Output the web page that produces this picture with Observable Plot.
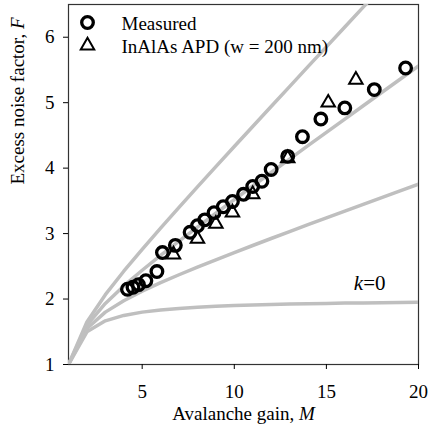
<!DOCTYPE html>
<html>
<head>
<meta charset="utf-8">
<script src="https://cdn.jsdelivr.net/npm/d3@7"></script>
<script src="https://cdn.jsdelivr.net/npm/@observablehq/plot@0.6"></script>
<style>
  html, body { margin: 0; padding: 0; background: #fff; }
</style>
</head>
<body>
<div id="chart"></div>
<script>
// Avalanche gain grid for the theoretical curves
const gain = [1,2,3,4,5,6,7,8,9,10,11,12,13,14,15,16,17,18,19,20];
// Excess noise factor (k = 0, 0.1, 0.2, 0.3)
const curveK0  = [1.000,1.500,1.667,1.750,1.800,1.833,1.857,1.875,1.889,1.900,1.909,1.917,1.923,1.929,1.933,1.938,1.941,1.944,1.947,1.950];
const curveK01 = [1.000,1.550,1.800,1.975,2.120,2.250,2.371,2.488,2.600,2.710,2.818,2.925,3.031,3.136,3.240,3.344,3.447,3.550,3.653,3.755];
const curveK02 = [1.000,1.600,1.933,2.200,2.440,2.667,2.886,3.100,3.311,3.520,3.727,3.933,4.138,4.343,4.547,4.750,4.953,5.156,5.358,5.560];
const curveK03 = [1.000,1.650,2.067,2.425,2.760,3.083,3.400,3.713,4.022,4.330,4.636,4.942,5.246,5.550,5.853,6.156,6.459,6.761];

// Measured points
const measuredM = [4.2,4.5,4.8,5.2,5.8,6.1,6.8,7.6,8.0,8.4,8.9,9.4,9.9,10.5,11.0,11.5,12.0,12.9,13.7,14.7,16.0,17.6,19.3];
const measuredF = [2.15,2.18,2.22,2.28,2.42,2.71,2.82,3.02,3.12,3.21,3.32,3.41,3.49,3.60,3.72,3.80,3.98,4.18,4.48,4.75,4.92,5.20,5.53];

// InAlAs APD (w = 200 nm)
const apdM = [6.7,8.0,9.0,9.9,11.0,12.9,15.1,16.6];
const apdF = [2.68,2.92,3.15,3.32,3.60,4.15,5.00,5.35];

const seriesNames = ["Measured", "InAlAs APD (w = 200 nm)"];
const xTicks = [5,10,15,20];
const yTicks = [1,2,3,4,5,6];
const curveLabel = "k=0";
const xLabel = "Avalanche gain, M";
const yLabel = "Excess noise factor, F";

const font = "'Liberation Serif', 'Times New Roman', serif";
const curveStyle = {stroke: "#bfbfbf", strokeWidth: 3.5, clip: true};

const chart = Plot.plot({
  width: 428,
  height: 434,
  marginLeft: 68,
  marginRight: 10,
  marginTop: 4,
  marginBottom: 70,
  style: {fontFamily: font, fontSize: "19px", color: "#000", background: "#fff"},
  x: {domain: [1, 20]},
  y: {domain: [1, 6.5]},
  marks: [
    Plot.frame({stroke: "#333", strokeWidth: 1.2}),
    Plot.axisX(xTicks, {tickSize: 5, tickPadding: 15, tickFormat: d => String(d), fontSize: 19, label: null, stroke: "#000", fill: "#000"}),
    Plot.axisY(yTicks, {tickSize: 5, tickPadding: 9, tickFormat: d => String(d), fontSize: 19, label: null, stroke: "#000", fill: "#000"}),
    Plot.line(curveK0,  {x: gain, y: curveK0, ...curveStyle}),
    Plot.line(curveK01, {x: gain, y: curveK01, ...curveStyle}),
    Plot.line(curveK02, {x: gain, y: curveK02, ...curveStyle}),
    Plot.line(curveK03, {x: gain.slice(0, curveK03.length), y: curveK03, ...curveStyle}),
    Plot.dot(measuredM, {x: measuredM, y: measuredF, r: 5.8, stroke: "#000", strokeWidth: 3.3, fill: "none"}),
    Plot.dot(apdM, {x: apdM, y: apdF, symbol: "triangle", r: 5, stroke: "#000", strokeWidth: 2, fill: "none"}),
    // legend
    Plot.dot([seriesNames[0]], {frameAnchor: "top-left", dx: 19, dy: 18, r: 5.8, stroke: "#000", strokeWidth: 3.3, fill: "none"}),
    Plot.dot([seriesNames[1]], {frameAnchor: "top-left", dx: 19, dy: 41, symbol: "triangle", r: 5, stroke: "#000", strokeWidth: 2, fill: "none"}),
    Plot.text([seriesNames[0]], {frameAnchor: "top-left", dx: 53, dy: 19, text: d => d, textAnchor: "start", lineAnchor: "middle", fontSize: 19, fill: "#000"}),
    Plot.text([seriesNames[1]], {frameAnchor: "top-left", dx: 53, dy: 42, text: d => d, textAnchor: "start", lineAnchor: "middle", fontSize: 19, fill: "#000"}),
    // curve label
    Plot.text([curveLabel], {x: 17.35, y: 2.24, text: d => d, fontSize: 21, fill: "#000", lineAnchor: "middle"}),
    // axis labels
    Plot.text([xLabel], {frameAnchor: "bottom", dy: 49, text: d => d, fontSize: 19, fill: "#000", lineAnchor: "middle"}),
    Plot.text([yLabel], {frameAnchor: "left", dx: -51, rotate: -90, text: d => d, fontSize: 19, fill: "#000", lineAnchor: "middle"})
  ]
});

// force the serif face on every text element (tick labels included)
chart.querySelectorAll("text").forEach(t => {
  t.style.setProperty("font-family", font, "important");
  t.style.setProperty("font-variant", "normal", "important");
});
chart.querySelectorAll("g[aria-label$='tick label'] text, g[aria-label$='tick label']").forEach(t => {
  t.style.setProperty("font-size", "19px", "important");
});

// italicise the variable letters
function italicize(svg, full, plain, ital, after) {
  svg.querySelectorAll("text").forEach(t => {
    if (t.textContent === full) {
      t.textContent = "";
      const ns = "http://www.w3.org/2000/svg";
      const a = document.createElementNS(ns, "tspan"); a.textContent = plain; t.appendChild(a);
      const b = document.createElementNS(ns, "tspan"); b.textContent = ital; b.setAttribute("font-style", "italic"); t.appendChild(b);
      if (after) { const c = document.createElementNS(ns, "tspan"); c.textContent = after; t.appendChild(c); }
    }
  });
}
italicize(chart, xLabel, "Avalanche gain, ", "M");
italicize(chart, yLabel, "Excess noise factor, ", "F");
italicize(chart, curveLabel, "", "k", "=0");

document.getElementById("chart").appendChild(chart);
</script>
</body>
</html>
